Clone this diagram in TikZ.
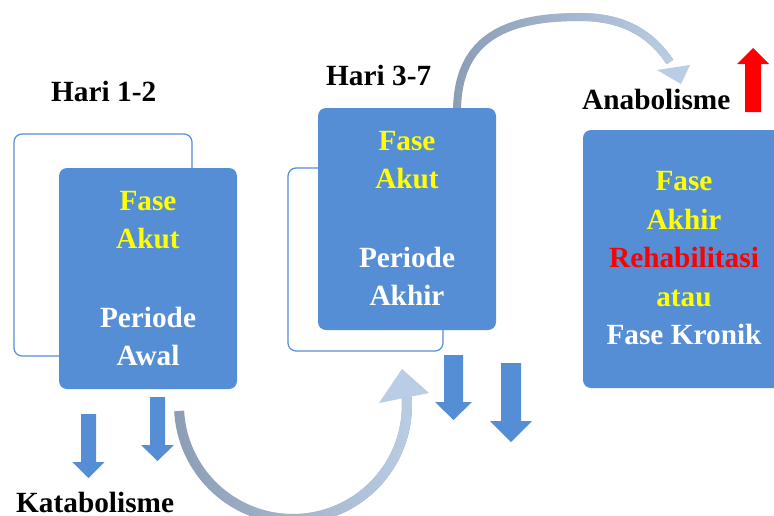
\documentclass[tikz,border=0pt]{standalone}
\usepackage{fontspec}
\setmainfont{Liberation Serif}
\usetikzlibrary{fadings}
\definecolor{boxblue}{RGB}{85,142,213}
\definecolor{arcdark}{RGB}{140,158,181}
\definecolor{arclight}{RGB}{185,205,229}
\definecolor{hiyellow}{RGB}{255,255,0}
\definecolor{hired}{RGB}{255,0,0}
\tikzfading[name=fadeleft, left color=transparent!100, right color=transparent!0]
\tikzset{
  bigfont/.style={font=\bfseries\fontsize{29.3}{38.5}\selectfont},
  filledbox/.style={draw=none, fill=boxblue, rounded corners=8pt, inner sep=0pt},
  framebox/.style={draw=boxblue, line width=1.2pt, fill=white, rounded corners=8pt, inner sep=0pt},
  boxtext/.style={bigfont, text=white, align=center, inner sep=0pt},
  label/.style={bigfont, text=black, inner sep=0pt, anchor=base west},
  pics/dnarrow/.style args={#1/#2/#3/#4}{code={
    \fill[boxblue] (-#1/2,0) -- (#1/2,0) -- (#1/2,#3) -- (#2/2,#3) -- (0,#4)
      -- (-#2/2,#3) -- (-#1/2,#3) -- cycle;}},
  pics/uparrow/.style args={#1/#2/#3/#4}{code={
    \fill[hired] (-#1/2,0) -- (#1/2,0) -- (#1/2,-#3) -- (#2/2,-#3) -- (0,-#4)
      -- (-#2/2,-#3) -- (-#1/2,-#3) -- cycle;}}
}
\begin{document}
\begin{tikzpicture}[x=1pt, y=-1pt]
\useasboundingbox (0,0) rectangle (774,515);

% lower sweep: from the first box round to the second
\draw[arcdark, line width=10pt] plot[domain=177:-4, samples=80] ({293+114*cos(\x)}, {405+114*sin(\x)});
\draw[arclight, line width=10pt, path fading=fadeleft] plot[domain=177:-4, samples=80] ({293+114*cos(\x)}, {405+114*sin(\x)});
\coordinate (h1tip) at (402,369);
\fill[arclight] (h1tip) -- (379,403) -- (429,393) -- cycle;

% upper sweep: from the second box over to the third
\draw[arcdark, line width=8pt] (457,112) .. controls (457,35) and (510,17) .. (580,17)
  .. controls (625,17) and (652,35) .. (670,62);
\draw[arclight, line width=8pt, path fading=fadeleft] (457,112) .. controls (457,35) and (510,17) .. (580,17)
  .. controls (625,17) and (652,35) .. (670,62);
\coordinate (h2tip) at (681,84);
\fill[arclight] (h2tip) -- (657,70) -- (690,65) -- cycle;

% first pair of boxes
\node[framebox, minimum width=178pt, minimum height=222pt] (f1) at (103,245) {};
\node[filledbox, minimum width=178pt, minimum height=221pt] (b1) at (148,278.5) {};
\node[boxtext] (t1) at (148,278.5)
  {\textcolor{hiyellow}{Fase}\\\textcolor{hiyellow}{Akut}\\[40pt]Periode\\Awal};

% second pair of boxes
\node[framebox, minimum width=155pt, minimum height=183pt] (f2) at (365.5,259.5) {};
\node[filledbox, minimum width=178pt, minimum height=222pt] (b2) at (407,219) {};
\node[boxtext] (t2) at (407,218.5)
  {\textcolor{hiyellow}{Fase}\\\textcolor{hiyellow}{Akut}\\[40pt]Periode\\Akhir};

% third box
\node[filledbox, minimum width=202pt, minimum height=258pt] (b3) at (684,259) {};
\node[boxtext] (t3) at (684,258.5)
  {\textcolor{hiyellow}{Fase}\\\textcolor{hiyellow}{Akhir}\\\textcolor{hired}{Rehabilitasi}\\\textcolor{hiyellow}{atau}\\Fase Kronik};

% labels
\node[label] (l1) at (51,101) {Hari 1-2};
\node[label] (l2) at (326,85) {Hari 3-7};
\node[label] (l3) at (16,512) {Katabolisme};
\node[label] (l4) at (582,109) {Anabolisme};

% block arrows
\pic at (88.5,414) {dnarrow={15/32/48/64}};
\pic at (157.5,397) {dnarrow={15/33/48/64}};
\pic at (453.5,355) {dnarrow={19/37/47/65}};
\pic at (511,363) {dnarrow={20/42/58/79}};
\pic at (753,112) {uparrow={16/32/48/64}};
\end{tikzpicture}
\end{document}
